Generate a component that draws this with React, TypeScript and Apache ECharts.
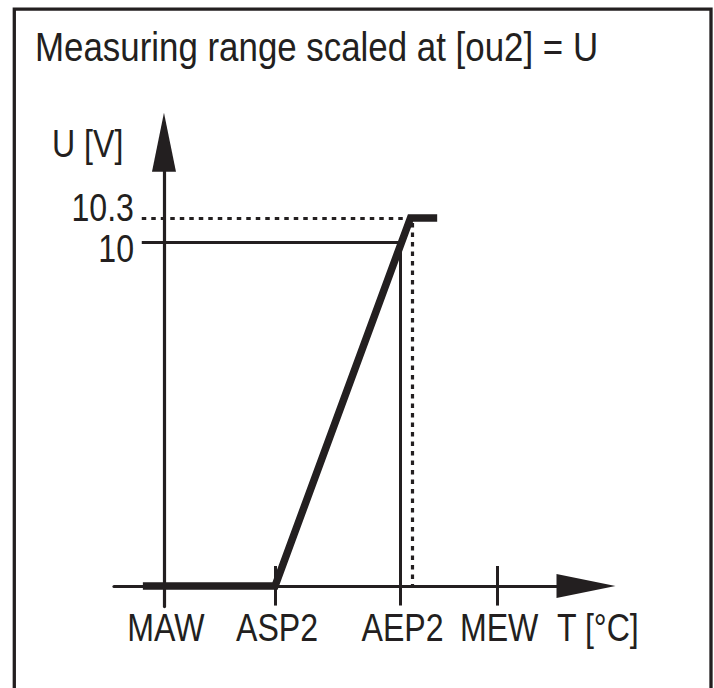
import { useEffect, useRef } from "react";
import * as echarts from "echarts";

const titleText = "Measuring range scaled at [ou2] = U";
const yAxisName = "U [V]";
const xAxisName = "T [°C]";

// T axis, schematic positions (MAW = 0, ASP2 = 100)
const xTickLabels = ["MAW", "ASP2", "AEP2", "MEW"];
const xTickAt = [0, 100, 213, 300];

// U axis, schematic positions (the 0.3 V step is drawn enlarged)
const yTickLabels = ["10", "10.3"];
const yTickAt = [10, 10.7];
const yLabelAt = [9.8, 11.0];

// analog output curve [T, U]
const outputX = [-19, 100, 222, 246];
const outputY = [0, 0, 10.7, 10.7];

// position of the 10.3 V dotted drop line
const limitX = 224;

const ink = "#231f20";
const font = "'Liberation Sans', Arial, Helvetica, sans-serif";
const narrow = 0.845;

export default function App() {
  const ref = useRef<HTMLDivElement>(null);
  useEffect(() => {
    if (!ref.current) return;
    const chart = echarts.init(ref.current, null, { renderer: "svg" });
    const guideStart = -20;
    const tickLow = -0.57;
    const tickHigh = 0.58;
    const seg = (x1: number, y1: number, x2: number, y2: number) => [
      { coord: [x1, y1] },
      { coord: [x2, y2] },
    ];
    const option: any = {
      animation: false,
      backgroundColor: "#ffffff",
      grid: { left: 114, top: 142.2, width: 472, height: 464.4, containLabel: false, outerBoundsMode: "none" },
      xAxis: {
        type: "value",
        min: -45,
        max: 380,
        axisLine: {
          onZero: true,
          lineStyle: { color: ink, width: 3.2 },
          symbol: ["none", "triangle"],
          symbolSize: [24, 59],
          symbolOffset: [0, 0],
        },
        axisTick: { show: false },
        splitLine: { show: false },
        axisLabel: { show: false },
      },
      yAxis: {
        type: "value",
        min: -0.6,
        max: 12.9,
        axisLine: {
          onZero: true,
          lineStyle: { color: ink, width: 3.2 },
          symbol: ["none", "triangle"],
          symbolSize: [24, 59],
          symbolOffset: [0, 0],
        },
        axisTick: { show: false },
        splitLine: { show: false },
        axisLabel: { show: false },
      },
      series: [
        {
          name: "guides",
          type: "line",
          data: [],
          silent: true,
          markLine: {
            silent: true,
            symbol: ["none", "none"],
            label: { show: false },
            lineStyle: { color: ink, width: 3, type: "solid" },
            emphasis: { disabled: true },
            data: [
              seg(guideStart, yTickAt[0], xTickAt[2], yTickAt[0]),
              seg(xTickAt[2], yTickAt[0], xTickAt[2], tickLow),
              seg(xTickAt[1], tickLow, xTickAt[1], tickHigh),
              seg(xTickAt[3], tickLow, xTickAt[3], tickHigh),
            ],
          },
        },
        {
          name: "limits",
          type: "line",
          data: [],
          silent: true,
          markLine: {
            silent: true,
            symbol: ["none", "none"],
            label: { show: false },
            lineStyle: { color: ink, width: 3.2, type: [4.5, 5] },
            emphasis: { disabled: true },
            data: [
              seg(guideStart, yTickAt[1], outputX[2], yTickAt[1]),
              seg(limitX, yTickAt[1] - 0.15, limitX, 0),
            ],
          },
        },
        {
          name: "output",
          type: "line",
          z: 10,
          silent: true,
          symbol: "none",
          showSymbol: false,
          lineStyle: { color: ink, width: 7.5, join: "miter" },
          itemStyle: { color: ink },
          data: outputX.map((x, i) => [x, outputY[i]]),
        },
      ],
    };
    chart.setOption(option);

    // texts, condensed like the original lettering, placed through the axes' scales
    const toPx = (x: number, y: number) => chart.convertToPixel({ gridIndex: 0 }, [x, y]) as number[];
    const origin = toPx(0, 0);
    const txt = (text: string, x: number, y: number, align: string, size: number, sx: number) => ({
      type: "text",
      silent: true,
      x,
      y,
      scaleX: sx,
      style: { text, fontFamily: font, fontSize: size, fill: ink, align, verticalAlign: "middle" },
    });
    const graphics: any[] = [
      {
        type: "rect",
        silent: true,
        z: 100,
        shape: { x: 14.3, y: 9.2, width: 696.7, height: 720 },
        style: { fill: "none", stroke: ink, lineWidth: 3.3 },
      },
      txt(titleText, 35, 47.5, "left", 40, 0.872),
      txt(yAxisName, 52, 143, "left", 38, narrow),
      txt(xAxisName, 557, origin[1] + 42, "left", 38, narrow),
    ];
    xTickAt.forEach((v, i) => {
      const p = toPx(v, 0);
      graphics.push(txt(xTickLabels[i], p[0] + 2, p[1] + 42, "center", 38, narrow));
    });
    yLabelAt.forEach((v, i) => {
      const p = toPx(0, v);
      graphics.push(txt(yTickLabels[i], p[0] - 30, p[1], "right", 38, narrow));
    });
    chart.setOption({ graphic: graphics });
    return () => chart.dispose();
  }, []);
  return (
    <div
      ref={ref}
      style={{ position: "absolute", left: 0, top: 0, width: 714, height: 688, background: "#fff" }}
    />
  );
}
